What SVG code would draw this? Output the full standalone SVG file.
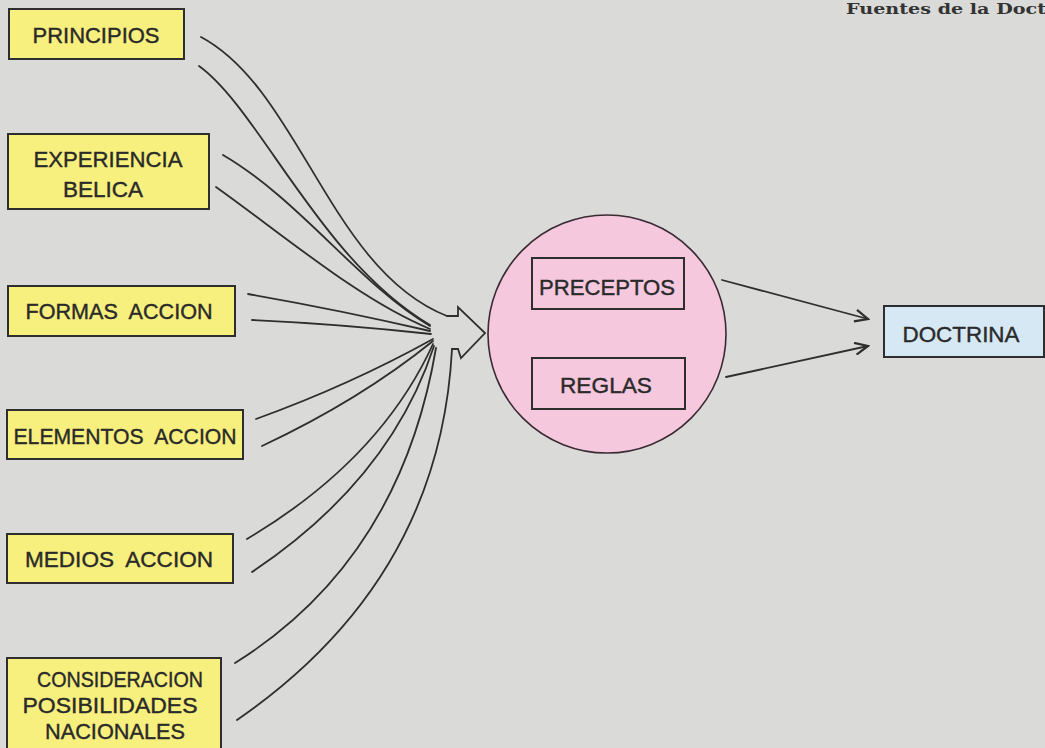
<svg xmlns="http://www.w3.org/2000/svg" width="1045" height="748" viewBox="0 0 1045 748">
<defs>
<style>
.bg{fill:#dadad8}
.box{fill:#f8f07e;stroke:#2e2e2e;stroke-width:2}
.inner{fill:none;stroke:#2e2e2e;stroke-width:2}
.blue{fill:#d6e8f4;stroke:#2e2e2e;stroke-width:2}
.circ{fill:#f5c8de;stroke:#3a2a33;stroke-width:1.6}
.t{font-family:"Liberation Sans",Arial,sans-serif;font-size:22px;fill:#2a2a2a;stroke:#2a2a2a;stroke-width:0.4;text-anchor:middle;white-space:pre}
.c{fill:none;stroke:#2e2e2e;stroke-width:1.8;stroke-linecap:round}
.title{font-family:"DejaVu Serif","Liberation Serif",serif;font-weight:bold;font-size:14px;fill:#333}
</style>
<marker id="ah" markerWidth="16" markerHeight="14" refX="14" refY="7" orient="auto" markerUnits="userSpaceOnUse">
<path d="M1,1 L14,7 L1,13" fill="none" stroke="#2e2e2e" stroke-width="2.2" stroke-linejoin="miter"/>
</marker>
</defs>
<rect class="bg" x="0" y="0" width="1045" height="748"/>
<text class="title" x="846" y="14" textLength="200" lengthAdjust="spacingAndGlyphs">Fuentes de la Doct</text>

<g id="connectors">
<path class="c" d="M201,37 C300,90 330,270 447,316"/>
<path class="c" d="M199,66 C260,110 320,260 430,325"/>
<path class="c" d="M223,155 C300,200 360,285 430,326"/>
<path class="c" d="M216,187 C290,240 360,300 430,329"/>
<path class="c" d="M248,294 Q340,310 430,331"/>
<path class="c" d="M252,320 Q340,324 431,334"/>
<path class="c" d="M256,419 Q350,385 433,339"/>
<path class="c" d="M262,446 Q360,400 433,341"/>
<path class="c" d="M247,539 Q380,460 433,344"/>
<path class="c" d="M252,572 Q390,480 434,346"/>
<path class="c" d="M235,663 Q400,560 436,348"/>
<path class="c" d="M237,720 Q440,580 452,349"/>
<path class="c" d="M447,316 L458,316 L458,307 L485,333 L461,358 L458,349 L452,349" stroke-linejoin="miter"/>
<path class="c" d="M722,280 L868,319" marker-end="url(#ah)"/>
<path class="c" d="M726,377 L868,346" marker-end="url(#ah)"/>
</g>

<g id="principios">
<rect class="box" x="9" y="9" width="175" height="50"/>
<text class="t" x="96" y="43" textLength="127" lengthAdjust="spacingAndGlyphs">PRINCIPIOS</text>
</g>
<g id="experiencia">
<rect class="box" x="8" y="134" width="201" height="75"/>
<text class="t" x="108" y="167" textLength="149" lengthAdjust="spacingAndGlyphs">EXPERIENCIA</text>
<text class="t" x="103" y="197" textLength="80" lengthAdjust="spacingAndGlyphs">BELICA</text>
</g>
<g id="formas">
<rect class="box" x="8" y="286" width="227" height="50"/>
<text class="t" x="119" y="319" textLength="187" lengthAdjust="spacingAndGlyphs">FORMAS  ACCION</text>
</g>
<g id="elementos">
<rect class="box" x="7" y="410" width="236" height="49"/>
<text class="t" x="125" y="444" textLength="223" lengthAdjust="spacingAndGlyphs">ELEMENTOS  ACCION</text>
</g>
<g id="medios">
<rect class="box" x="7" y="534" width="226" height="49"/>
<text class="t" x="119" y="567" textLength="188" lengthAdjust="spacingAndGlyphs">MEDIOS  ACCION</text>
</g>
<g id="consideracion">
<rect class="box" x="7" y="658" width="214" height="95"/>
<text class="t" x="120" y="687" textLength="166" lengthAdjust="spacingAndGlyphs">CONSIDERACION</text>
<text class="t" x="110" y="713" textLength="175" lengthAdjust="spacingAndGlyphs">POSIBILIDADES</text>
<text class="t" x="115" y="739" textLength="140" lengthAdjust="spacingAndGlyphs">NACIONALES</text>
</g>
<g id="centro">
<circle class="circ" cx="607" cy="334" r="119"/>
</g>
<g id="preceptos">
<rect class="inner" x="532" y="258" width="152" height="51"/>
<text class="t" x="607" y="295" textLength="136" lengthAdjust="spacingAndGlyphs">PRECEPTOS</text>
</g>
<g id="reglas">
<rect class="inner" x="532" y="358" width="153" height="51"/>
<text class="t" x="606" y="393" textLength="92" lengthAdjust="spacingAndGlyphs">REGLAS</text>
</g>
<g id="doctrina">
<rect class="blue" x="884" y="306" width="160" height="51"/>
<text class="t" x="961" y="342" textLength="117" lengthAdjust="spacingAndGlyphs">DOCTRINA</text>
</g>
</svg>
